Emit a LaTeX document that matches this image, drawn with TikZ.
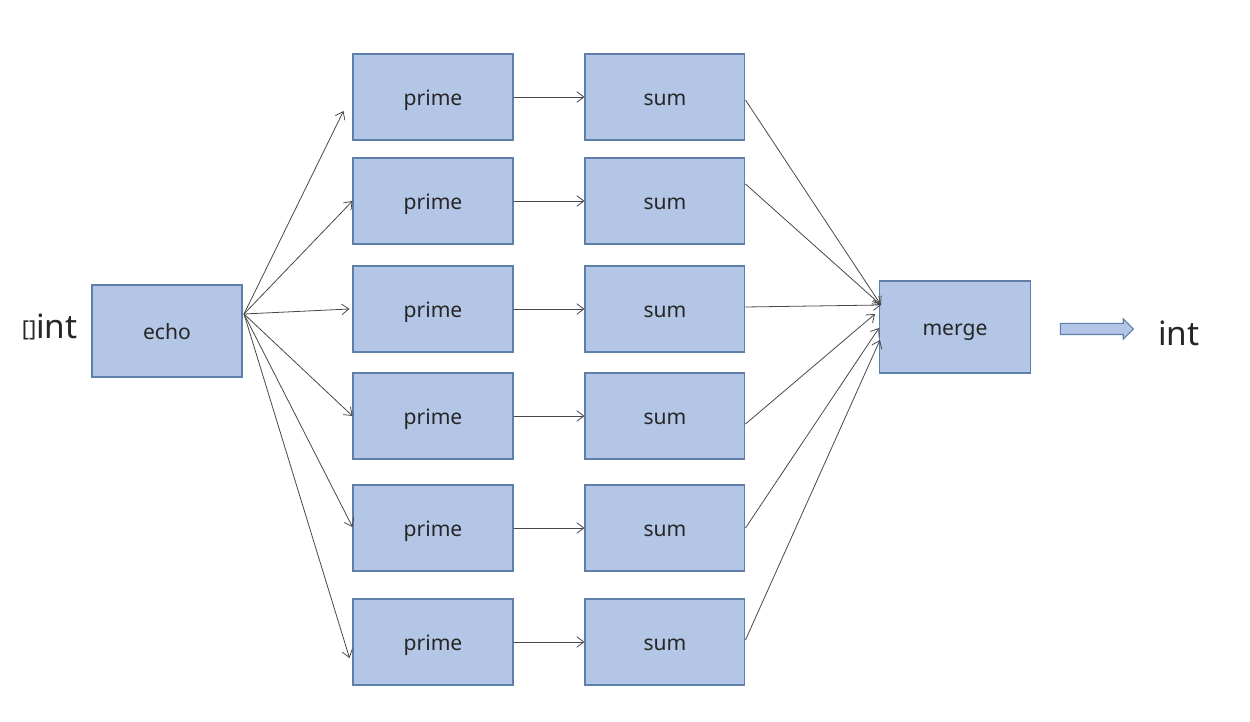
\documentclass[tikz,border=0pt]{standalone}
\usepackage{fontspec}
\setmainfont{Noto Sans}
\usepackage{xcolor}
\usetikzlibrary{positioning, calc, arrows.meta, shapes.arrows}
\definecolor{boxfill}{HTML}{B4C6E5}
\definecolor{boxline}{HTML}{5E7FAA}
\definecolor{ink}{HTML}{262626}
\tikzset{
    x=0.02cm, y=-0.02cm, % one unit is one pixel of the reference
    stage/.style={draw=boxline, fill=boxfill, semithick, text=ink,
        font=\fontsize{12}{14}\selectfont, text height=10pt, text depth=0pt,
        minimum width=3.2cm, minimum height=1.72cm}, % prime and sum boxes
    link/.style={draw=ink!85, line width=0.45pt, -{Straight Barb[length=4pt,width=6pt]}}, % thin connectors
}

\begin{document}
\begin{tikzpicture}
                [node distance=4.64cm, on grid]
                \useasboundingbox (0,0) rectangle (1250,722);
                % Stadi
                \node[stage, minimum width=3cm, minimum height=1.84cm] (echo) at (167,331) {echo};
                \foreach \y [count=\i] in {97,201,309,416,528,642} {
                    \node[stage] (p\i) at (433,\y) {prime};
                    \node[stage] (s\i) [right=of p\i] {sum};
                }
                \node[stage, minimum width=3.02cm, minimum height=1.84cm] (merge) at (955,327) {merge};

                % Ingresso e uscita
                \node[text=ink, font=\fontsize{19}{22}\selectfont, anchor=east, inner sep=0pt] (in) at (78,327)
                    {\raisebox{1pt}{\fontsize{12.5}{13}\selectfont[]}int};
                \node[single arrow, draw=boxline, fill=boxfill, semithick,
                      minimum height=1.46cm, inner xsep=0pt, inner ysep=0.1cm,
                      single arrow head extend=0.09cm] (out) at (1094,329) {};
                \node[text=ink, font=\fontsize{19}{22}\selectfont] (res) at (1179,333) {int};

                % Collegamenti
                \coordinate (fan) at (244,314);
                \foreach \i/\dx/\dy in {1/-9/14, 2/0/0, 3/-3/0, 4/0/0, 5/0/-1, 6/-3/16}
                    \draw[link] (fan) -- ($(p\i.west)+(\dx,\dy)$);
                \foreach \i in {1,...,6}
                    \draw[link] (p\i.east) -- (s\i.west);
                \foreach \i/\sy/\dx/\dy in {1/3/2/-22, 2/-17/2/-22, 3/-2/2/-22, 4/8/-4/-13, 5/0/0/1, 6/-2/1/13}
                    \draw[link] ($(s\i.east)+(0,\sy)$) -- ($(merge.west)+(\dx,\dy)$);

            \end{tikzpicture}
\end{document}
